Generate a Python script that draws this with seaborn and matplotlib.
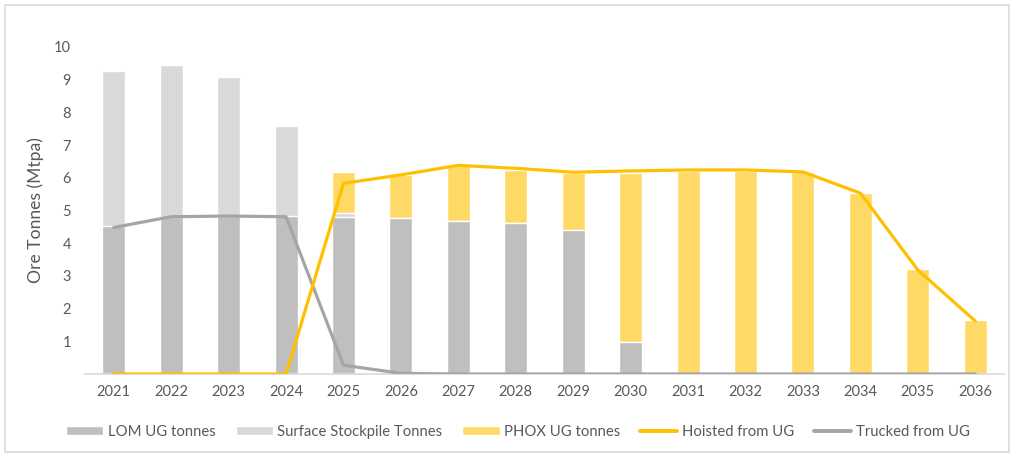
import numpy as np
import pandas as pd
import matplotlib
matplotlib.use("Agg")
import matplotlib.pyplot as plt
import seaborn as sns
from matplotlib.patches import Patch, Rectangle
from matplotlib.lines import Line2D

years = ["2021", "2022", "2023", "2024", "2025", "2026", "2027", "2028",
         "2029", "2030", "2031", "2032", "2033", "2034", "2035", "2036"]
lom_ug = [4.53, 4.81, 4.83, 4.83, 4.79, 4.76, 4.68, 4.63, 4.40, 0.98, 0, 0, 0, 0, 0, 0]
surface_stockpile = [4.74, 4.64, 4.26, 2.74, 0.12, 0, 0, 0, 0, 0, 0, 0, 0, 0, 0, 0]
phox_ug = [0, 0.03, 0.03, 0.05, 1.28, 1.33, 1.67, 1.61, 1.74, 5.18, 6.21, 6.21, 6.18, 5.55, 3.22, 1.64]
hoisted = [0, 0, 0, 0, 5.83, 6.09, 6.38, 6.29, 6.17, 6.21, 6.24, 6.24, 6.18, 5.53, 3.18, 1.62]
trucked = [4.48, 4.81, 4.83, 4.81, 0.27, 0.02, 0, 0, 0, 0, 0, 0, 0, 0, 0, 0]

C_LOM = "#BFBFBF"
C_SURF = "#D9D9D9"
C_PHOX = "#FFD966"
C_HOIST = "#FFC000"
C_TRUCK = "#A5A5A5"
TXT = "#595959"

sns.set_theme(style="white")
plt.rcParams["font.family"] = ["Lato", "DejaVu Sans"]

df = pd.DataFrame({"year": years, "lom": lom_ug, "surf": surface_stockpile, "phox": phox_ug})
df["lom_surf"] = df["lom"] + df["surf"]
df["total"] = df["lom_surf"] + df["phox"]

fig = plt.figure(figsize=(10.14, 4.55), dpi=100)
ax = fig.add_axes([85 / 1014, 1 - 374 / 455, (1004 - 85) / 1014, (374 - 47) / 455])

w = 0.40
sns.barplot(data=df, x="year", y="total", color=C_PHOX, saturation=1, width=w, ax=ax, zorder=2)
sns.barplot(data=df, x="year", y="lom_surf", color=C_SURF, saturation=1, width=w, ax=ax, zorder=2)
sns.barplot(data=df, x="year", y="lom", color=C_LOM, saturation=1, width=w, ax=ax, zorder=2)

xpos = np.arange(len(years))
sns.lineplot(x=xpos, y=trucked, color=C_TRUCK, linewidth=2.3, ax=ax, zorder=3)
sns.lineplot(x=xpos, y=hoisted, color=C_HOIST, linewidth=2.3, ax=ax, zorder=4)

ax.set_xlim(-0.5, len(years) - 0.5)
ax.set_ylim(0, 10)
ax.set_yticks(range(1, 11))
ax.set_xlabel("")
ax.set_ylabel("Ore Tonnes (Mtpa)", fontsize=12.6, color=TXT)
ax.yaxis.set_label_coords((44 - 85) / 919, 0.5)
ax.tick_params(axis="both", labelsize=10.5, colors=TXT, length=0)
ax.tick_params(axis="x", pad=8)
ax.tick_params(axis="y", pad=10)
for s in ["top", "right", "left"]:
    ax.spines[s].set_visible(False)
ax.spines["bottom"].set_color("#D9D9D9")
ax.spines["bottom"].set_linewidth(1.2)
ax.grid(False)

handles = [
    Patch(facecolor=C_LOM, label="LOM UG tonnes"),
    Patch(facecolor=C_SURF, label="Surface Stockpile Tonnes"),
    Patch(facecolor=C_PHOX, label="PHOX UG tonnes"),
    Line2D([0], [0], color=C_HOIST, lw=2.8, label="Hoisted from UG"),
    Line2D([0], [0], color=C_TRUCK, lw=2.8, label="Trucked from UG"),
]
leg = fig.legend(handles=handles, loc="center", bbox_to_anchor=(518 / 1014, 1 - 432 / 455),
                 ncol=5, frameon=False, fontsize=10.7, handlelength=2.5, handleheight=0.55,
                 handletextpad=0.3, columnspacing=1.35, labelcolor=TXT)

fig.patches.append(Rectangle((5 / 1014, 3 / 455), 1004 / 1014, 447 / 455,
                             transform=fig.transFigure, fill=False,
                             edgecolor="#D9D9D9", linewidth=1.2))

fig.savefig("out.png", dpi=100)
